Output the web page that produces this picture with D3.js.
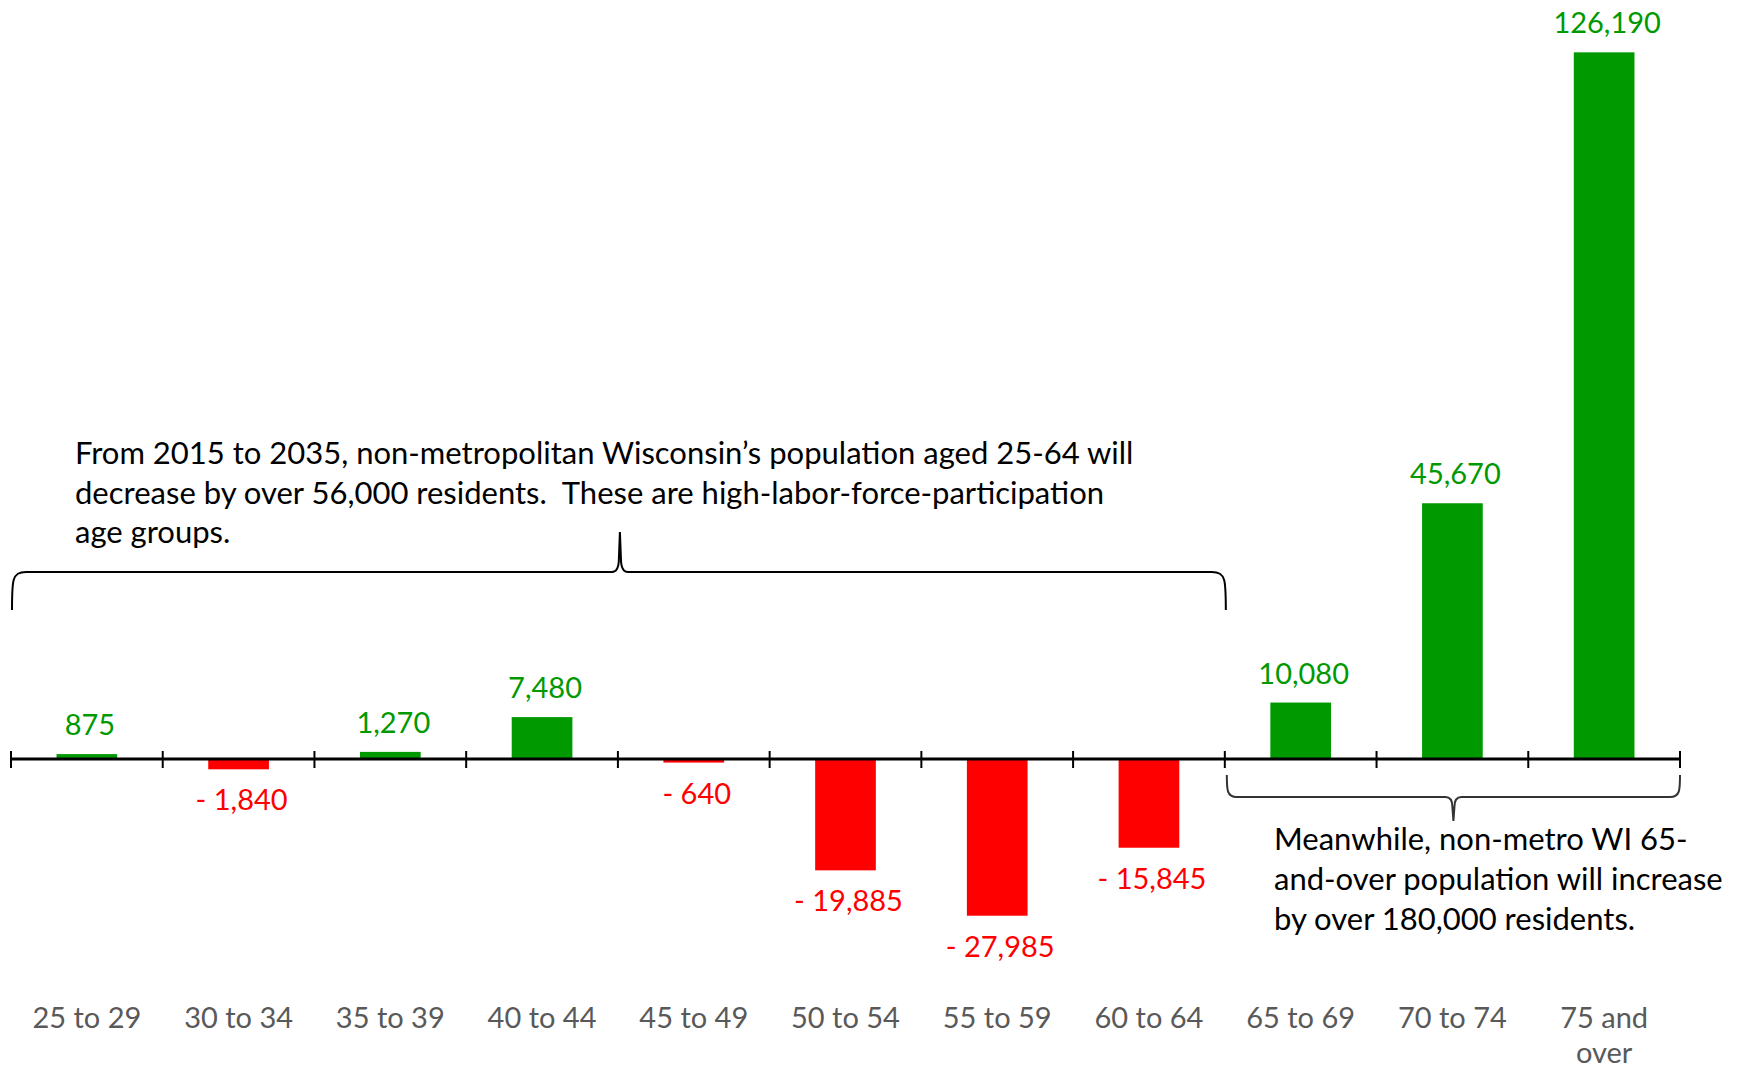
<!DOCTYPE html>
<html>
<head>
<meta charset="utf-8">
<script src="https://cdn.jsdelivr.net/npm/d3@7/dist/d3.min.js"></script>
<style>
  html, body { margin: 0; padding: 0; background: #ffffff; }
  svg { display: block; }
  text { font-family: Lato, "Open Sans", sans-serif; }
  .note { white-space: pre; }
</style>
</head>
<body>
<svg id="chart" width="1746" height="1070"></svg>
<script>
// ---- Data ----
const categories = ["25 to 29", "30 to 34", "35 to 39", "40 to 44", "45 to 49", "50 to 54",
                    "55 to 59", "60 to 64", "65 to 69", "70 to 74", "75 and over"];
const categoryLines = [["25 to 29"], ["30 to 34"], ["35 to 39"], ["40 to 44"], ["45 to 49"], ["50 to 54"],
                       ["55 to 59"], ["60 to 64"], ["65 to 69"], ["70 to 74"], ["75 and", "over"]];
const values = [875, -1840, 1270, 7480, -640, -19885, -27985, -15845, 10080, 45670, 126190];
const noteLeft = [
  "From 2015 to 2035, non-metropolitan Wisconsin\u2019s population aged 25-64 will",
  "decrease by over 56,000 residents.  These are high-labor-force-participation",
  "age groups."
];
const noteRight = [
  "Meanwhile, non-metro WI 65-",
  "and-over population will increase",
  "by over 180,000 residents."
];

// ---- Layout ----
const svg = d3.select("#chart");
const x = d3.scaleBand().domain(categories).range([11, 1680]).paddingInner(0.6).paddingOuter(0.3);
const y = d3.scaleLinear().domain([-30000, 130000]).range([927.0, 31.0]);
const step = x.step();
const x0 = x.range()[0];
const boundary = i => x0 + i * step;
const y0 = y(0);
const green = "#009900", red = "#ff0000";
const fs = 29;
const noteFs = 31;

// Bars
svg.append("g").selectAll("rect").data(values).join("rect")
  .attr("x", (d, i) => x(categories[i]))
  .attr("width", x.bandwidth())
  .attr("y", d => d >= 0 ? y(d) : y0)
  .attr("height", d => Math.abs(y(d) - y0))
  .attr("fill", d => d >= 0 ? green : red);

// Axis line and ticks
const ax = svg.append("g");
ax.append("line").attr("x1", boundary(0)).attr("x2", boundary(categories.length))
  .attr("y1", y0).attr("y2", y0).attr("stroke", "#000").attr("stroke-width", 3);
ax.selectAll("line.tick").data(d3.range(categories.length + 1)).join("line")
  .attr("class", "tick")
  .attr("x1", i => boundary(i)).attr("x2", i => boundary(i))
  .attr("y1", y0 - 8).attr("y2", y0 + 9)
  .attr("stroke", "#000").attr("stroke-width", 2);

// Value labels
const fmt = d3.format(",");
svg.append("g").selectAll("text").data(values).join("text")
  .attr("x", (d, i) => x(categories[i]) + x.bandwidth() / 2 + 3)
  .attr("y", d => d >= 0 ? y(d) - 19 : y(d) + 41)
  .attr("text-anchor", "middle")
  .attr("font-size", fs)
  .attr("fill", d => d >= 0 ? green : red)
  .text(d => d >= 0 ? fmt(d) : "- " + fmt(Math.abs(d)));

// Category labels
const cl = svg.append("g").selectAll("text").data(categoryLines).join("text")
  .attr("x", (d, i) => x(categories[i]) + x.bandwidth() / 2)
  .attr("y", 1028)
  .attr("text-anchor", "middle")
  .attr("font-size", fs)
  .attr("fill", "#595959");
cl.selectAll("tspan").data(d => d).join("tspan")
  .attr("x", function() { return d3.select(this.parentNode).attr("x"); })
  .attr("dy", (d, i) => i === 0 ? 0 : 35)
  .text(d => d);

// Left annotation
svg.append("g").selectAll("text").data(noteLeft).join("text")
  .attr("class", "note")
  .attr("x", 75).attr("y", (d, i) => 464 + i * 39.5)
  .attr("font-size", noteFs).attr("fill", "#000")
  .text(d => d);

// Left brace (over 25-64)
{
  const a = boundary(0) + 1, b = boundary(8) + 1, c = (a + b) / 2 + 1;
  const yl = 572, ye = 610, yp = 532;
  const p = d3.path();
  p.moveTo(a, ye); p.bezierCurveTo(a, 580, a, yl, a + 14, yl);
  p.lineTo(c - 8, yl); p.quadraticCurveTo(c - 1, yl, c - 1, yl - 14); p.lineTo(c, yp);
  p.lineTo(c + 1, yl - 14); p.quadraticCurveTo(c + 1, yl, c + 8, yl);
  p.lineTo(b - 14, yl); p.bezierCurveTo(b, yl, b, 580, b, ye);
  svg.append("path").attr("d", p.toString()).attr("fill", "none")
    .attr("stroke", "#000").attr("stroke-width", 2);
}

// Right brace (under 65+)
{
  const a = boundary(8) + 2, b = boundary(11), c = (a + b) / 2;
  const yl = 797, ye = 775, yp = 821;
  const p = d3.path();
  p.moveTo(a, ye); p.bezierCurveTo(a, 790, a, yl, a + 10, yl);
  p.lineTo(c - 8, yl); p.quadraticCurveTo(c - 1, yl, c - 1, yl + 10); p.lineTo(c, yp);
  p.lineTo(c + 1, yl + 10); p.quadraticCurveTo(c + 1, yl, c + 8, yl);
  p.lineTo(b - 10, yl); p.bezierCurveTo(b, yl, b, 790, b, ye);
  svg.append("path").attr("d", p.toString()).attr("fill", "none")
    .attr("stroke", "#333").attr("stroke-width", 2);
}

// Right annotation
svg.append("g").selectAll("text").data(noteRight).join("text")
  .attr("class", "note")
  .attr("x", 1274).attr("y", (d, i) => 850 + i * 40)
  .attr("font-size", noteFs).attr("fill", "#000")
  .text(d => d);
</script>
</body>
</html>
